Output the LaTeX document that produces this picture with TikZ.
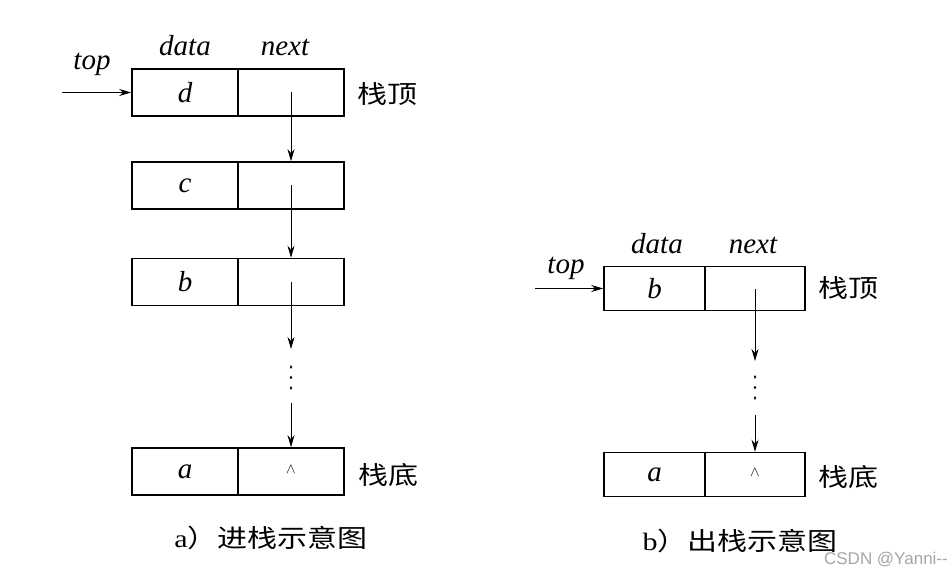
\documentclass[tikz,border=0pt]{standalone}
\usepackage{fontspec}
\setmainfont{Liberation Serif}
\newfontfamily\cjk{Noto Sans CJK SC}
\newfontfamily\wmfont{Liberation Sans}
\usetikzlibrary{arrows.meta,shapes.geometric}
\newcommand{\cnx}[1]{\scalebox{1.2}[1]{#1}}
\begin{document}
\begin{tikzpicture}[x=1pt,y=-1pt,
  cellL/.style={draw, line width=1.6pt, minimum height=47pt, inner sep=0pt,
    font=\fontsize{29}{29}\selectfont\itshape},
  cellR/.style={draw, line width=1.6pt, minimum height=44pt, inner sep=0pt,
    font=\fontsize{29}{29}\selectfont\itshape},
  ptr/.style={-{Stealth[length=12pt,width=7pt]}, line width=0.8pt},
  lab/.style={font=\fontsize{29}{29}\selectfont\itshape, inner sep=0pt, anchor=base},
  cn/.style={font=\cjk\fontsize{25}{25}\selectfont, inner sep=0pt},
  captxt/.style={font=\fontsize{25}{25}\selectfont, inner sep=0pt},
  dotm/.style={fill, ellipse, inner sep=0pt, minimum width=2.4pt, minimum height=3.6pt},
  nul/.style={font=\fontsize{14}{14}\selectfont},
]
\useasboundingbox[fill=white] (0,0) rectangle (952,577);

% ---------- (a) push ----------
\node[lab] (topA) at (92,70) {top};
\node[lab] (dataA) at (185,56) {data};
\node[lab] (nextA) at (285,56) {next};

\node[cellL, minimum width=106pt] (dl) at (185,92.5) {d};
\node[cellL, minimum width=106pt] (dr) at (291,92.5) {};
\node[cellL, minimum width=106pt] (cl) at (185,185.5) {c};
\node[cellL, minimum width=106pt] (cr) at (291,185.5) {};
\node[cellL, minimum width=106pt] (bl) at (185,282) {b};
\node[cellL, minimum width=106pt] (br) at (291,282) {};
\node[cellL, minimum width=106pt] (al) at (185,471.5) {a};
\node[cellL, minimum width=106pt] (ar) at (291,471.5) {};
\node[nul] (arn) at (291,469) {$\wedge$};

\node[cn] (topLblA) at (387,94) {\cnx{栈顶}};
\node[cn] (botLblA) at (388,475) {\cnx{栈底}};

\coordinate (inA) at (62,92.5);
\draw[ptr] (inA) -- (dl.west);
\draw[ptr] (dr.center) -- (cr.north);
\draw[ptr] (cr.center) -- (br.north);
\coordinate (gapA1) at (291,349);
\coordinate (gapA2) at (291,403);
\draw[ptr] (br.center) -- (gapA1);
\node[dotm] (dA1) at (291,367) {};
\node[dotm] (dA2) at (291,377.5) {};
\node[dotm] (dA3) at (291,388) {};
\draw[ptr] (gapA2) -- (ar.north);

\node[captxt] (capA) at (271,538) {\cnx{a{\cjk ）进栈示意图}}};

% ---------- (b) pop ----------
\node[lab] (topB) at (566,273) {top};
\node[lab] (dataB) at (657,253) {data};
\node[lab] (nextB) at (753,253) {next};

\node[cellR, minimum width=101pt] (Bbl) at (654.5,288.5) {b};
\node[cellR, minimum width=100pt] (Bbr) at (755,288.5) {};
\node[cellR, minimum width=101pt] (Bal) at (654.5,474.5) {a};
\node[cellR, minimum width=100pt] (Bar) at (755,474.5) {};
\node[nul] (Barn) at (755,472) {$\wedge$};

\node[cn] (topLblB) at (848,288) {\cnx{栈顶}};
\node[cn] (botLblB) at (848,477) {\cnx{栈底}};

\coordinate (inB) at (535,288.5);
\draw[ptr] (inB) -- (Bbl.west);
\coordinate (gapB1) at (755,361);
\coordinate (gapB2) at (755,415);
\draw[ptr] (Bbr.center) -- (gapB1);
\node[dotm] (dB1) at (755,377) {};
\node[dotm] (dB2) at (755,387.5) {};
\node[dotm] (dB3) at (755,398) {};
\draw[ptr] (gapB2) -- (Bar.north);

\node[captxt] (capB) at (740,541) {\cnx{b{\cjk ）出栈示意图}}};

\node[font=\wmfont\fontsize{17}{17}\selectfont, text=black!35, inner sep=0pt, anchor=east] (wm) at (948,560) {CSDN @Yanni--};
\end{tikzpicture}
\end{document}
